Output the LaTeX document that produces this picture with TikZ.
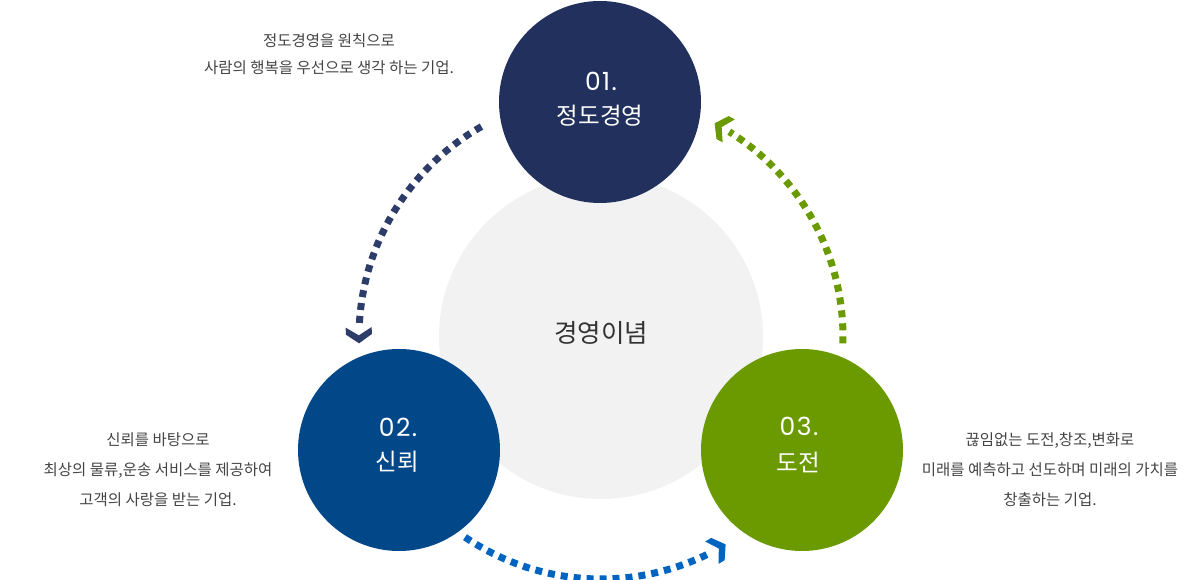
\documentclass[tikz,border=0pt]{standalone}
\usepackage{fontspec}
\setmainfont{Noto Sans CJK KR}
\newfontfamily\numfont{Poppins}[LetterSpace=6]
\usetikzlibrary{calc}
\definecolor{navyC}{HTML}{22305D}
\definecolor{blueC}{HTML}{024889}
\definecolor{greenC}{HTML}{6A9A00}
\definecolor{grayC}{HTML}{F2F2F2}
\definecolor{navyA}{HTML}{2E3C6A}
\definecolor{blueA}{HTML}{0064C0}
\definecolor{greenA}{HTML}{6A9A00}
\definecolor{txtC}{HTML}{444444}
\definecolor{titleC}{HTML}{333333}
\tikzset{
  bigcircle/.style={circle, inner sep=0pt, minimum size=202pt},
  numlabel/.style={text=white, inner sep=0pt, font=\numfont\fontsize{25}{25}\selectfont},
  namelabel/.style={text=white, inner sep=0pt, font=\fontsize{23.5}{23.5}\selectfont},
  desc/.style={text=txtC, inner sep=0pt, align=center, font=\fontsize{15.5}{30}\selectfont},
  dotline/.style={line width=7pt, dash pattern=on 7pt off 6pt},
  chev/.pic={\fill (0,0) -- (-9,13) -- (-16,13) -- (-8,0) -- (-16,-13) -- (-9,-13) -- cycle;}
}
\begin{document}
\begin{tikzpicture}[x=1pt,y=1pt]
\useasboundingbox (0,0) rectangle (1200,579);
\coordinate (C) at (601,242);
\node[bigcircle, fill=grayC, minimum size=324pt] (core) at (C) {};
\node[text=titleC, inner sep=0pt, font=\fontsize{25.5}{25.5}\selectfont] (coretxt) at (601,246) {경영이념};

\node[bigcircle, fill=navyC] (c1) at (600,477) {};
\node[bigcircle, fill=blueC] (c2) at (399,129) {};
\node[bigcircle, fill=greenC] (c3) at (802,129) {};

\node[numlabel] (n1) at (601,498) {01.};
\node[namelabel] (t1) at (600,463) {정도경영};
\node[numlabel] (n2) at (398,152) {02.};
\node[namelabel] (t2) at (397,117) {신뢰};
\node[numlabel] (n3) at (799,153) {03.};
\node[namelabel] (t3) at (798,117) {도전};

\node[desc, font=\fontsize{15.5}{27}\selectfont] (d1) at (329,524.5) {정도경영을 원칙으로\\사람의 행복을 우선으로 생각 하는 기업.};
\node[desc] (d2) at (158,109) {신뢰를 바탕으로\\최상의 물류,운송 서비스를 제공하여\\고객의 사랑을 받는 기업.};
\node[desc] (d3) at (1050,109) {끊임없는 도전,창조,변화로\\미래를 예측하고 선도하며 미래의 가치를\\창출하는 기업.};

% arcs
\coordinate (a1s) at ($(C)+(119.6:242pt)$);
\coordinate (a2s) at ($(C)+(235.8:242pt)$);
\coordinate (a3s) at ($(C)+(-1.5:242pt)$);
\coordinate (a1e) at ($(C)+(181.5:242pt)$);
\coordinate (a2e) at ($(C)+(301:242pt)$);
\coordinate (a3e) at ($(C)+(62:242pt)$);

\draw[dotline, navyA] (a1s) arc[start angle=119.6, end angle=177.2, radius=242pt];
\pic[color=navyA, rotate=271.5] at (a1e) {chev};

\draw[dotline, blueA] (a2s) arc[start angle=235.8, end angle=297, radius=242pt];
\pic[color=blueA, rotate=391] at (a2e) {chev};

\draw[dotline, greenA] (a3s) arc[start angle=-1.5, end angle=58, radius=242pt];
\pic[color=greenA, rotate=152] at (a3e) {chev};
\end{tikzpicture}
\end{document}
